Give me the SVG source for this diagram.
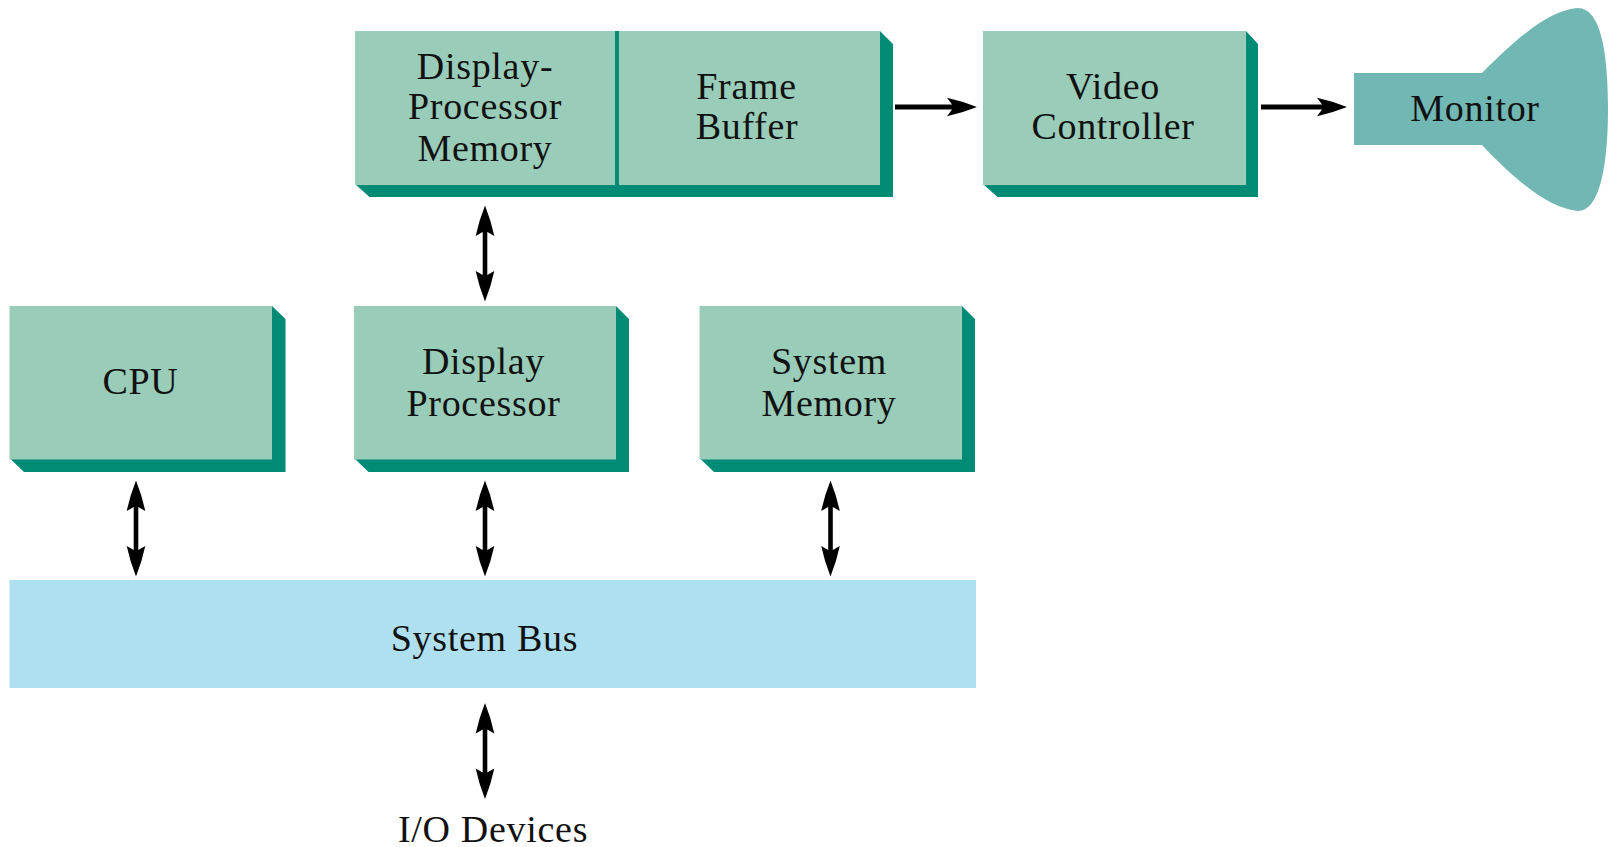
<svg xmlns="http://www.w3.org/2000/svg" width="1608" height="847" viewBox="0 0 1608 847">
<style>
.face{fill:#99ccb9}
.side{fill:#008b76}
.t{font-family:"Liberation Serif","Times New Roman",serif;font-size:38px;fill:#111;text-anchor:middle;letter-spacing:.7px}
.c{fill:none;stroke:#000;stroke-width:5}
.h{fill:#000}
</style>
<defs>
<path id="ud" class="h" d="M0,-48 Q6,-33 9.300,-17.500 L2.300,-21.500 L2.300,21.500 L9.300,17.500 Q6,33 0,48 Q-6,33 -9.300,17.500 L-2.300,21.500 L-2.300,-21.500 L-9.300,-17.500 Q-6,-33 0,-48 Z"/>
<path id="rt" class="h" d="M0,0 Q-15,-6 -30,-9.300 L-25,-2.500 L-25,2.500 L-30,9.300 Q-15,6 0,0 Z"/>
</defs>
<rect width="1608" height="847" fill="#fff"/>
<g id="display-memory-frame-buffer">
<path class="side" d="M355,184 L369.500,197 L893,197 L893,44 L880,31 L880,184 Z"/>
<rect class="face" x="355" y="31" width="525" height="154"/>
<rect class="side" x="615" y="31" width="4" height="154"/>
<text class="t" x="485" y="79">Display-</text>
<text class="t" x="485" y="119">Processor</text>
<text class="t" x="485" y="161">Memory</text>
<text class="t" x="746.500" y="99">Frame</text>
<text class="t" x="747" y="139">Buffer</text>
</g>
<g id="video-controller">
<path class="side" d="M983,184 L997.500,197 L1258,197 L1258,44 L1246,31 L1246,184 Z"/>
<rect class="face" x="983" y="31" width="263" height="154"/>
<text class="t" x="1113" y="99">Video</text>
<text class="t" x="1113" y="139">Controller</text>
</g>
<g id="monitor">
<path d="M1354,73 L1482,73 C1520,35 1550,10 1578,8 C1600,8 1608,50 1608,108 C1608,165 1600,211 1578,211 C1550,208 1520,185 1482,145 L1354,145 Z" fill="#71b7b4"/>
<text class="t" x="1475" y="121">Monitor</text>
</g>
<g id="cpu">
<path class="side" d="M9.500,458 L24,472 L285.500,472 L285.500,319 L272,306 L272,458 Z"/>
<rect class="face" x="9.500" y="306" width="262.500" height="153.500"/>
<text class="t" x="140.500" y="394">CPU</text>
</g>
<g id="display-processor">
<path class="side" d="M354,458 L368.500,472 L629,472 L629,319 L616,306 L616,458 Z"/>
<rect class="face" x="354" y="306" width="262" height="153.500"/>
<text class="t" x="483.500" y="374">Display</text>
<text class="t" x="483.500" y="416">Processor</text>
</g>
<g id="system-memory">
<path class="side" d="M699.500,458 L714,472 L975,472 L975,319 L962,306 L962,458 Z"/>
<rect class="face" x="699.500" y="306" width="262.500" height="153.500"/>
<text class="t" x="829" y="374">System</text>
<text class="t" x="829" y="416">Memory</text>
</g>
<g id="system-bus">
<rect x="9.500" y="580" width="966.500" height="108" fill="#afe0ef"/>
<text class="t" x="484.500" y="651">System Bus</text>
</g>
<g id="io-devices">
<text class="t" x="493" y="842">I/O Devices</text>
</g>
<g id="connectors">
<use href="#ud" x="485" y="253.500"/>
<use href="#ud" x="136" y="528.500"/>
<use href="#ud" x="485" y="528.500"/>
<use href="#ud" x="830.500" y="528.500"/>
<use href="#ud" x="485" y="751"/>
<path class="c" d="M895,107 L955,107"/>
<use href="#rt" x="977" y="107"/>
<path class="c" d="M1261,107 L1325,107"/>
<use href="#rt" x="1347" y="107"/>
</g>
</svg>
